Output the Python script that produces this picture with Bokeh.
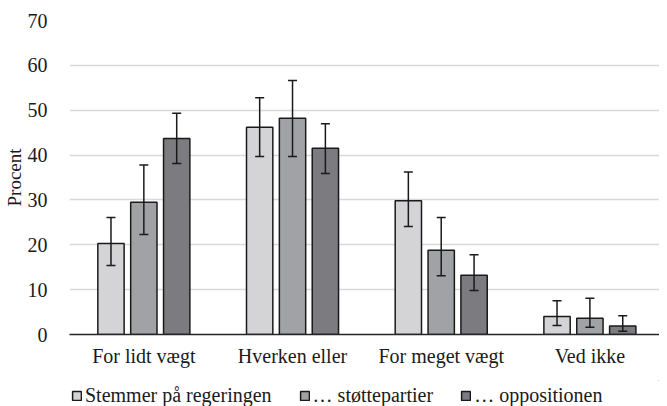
from bokeh.plotting import figure
from bokeh.models import Range1d, ColumnDataSource, Whisker, TeeHead, Legend, LegendItem, SingleIntervalTicker, FixedTicker
from bokeh.layouts import column
from bokeh.transform import dodge
from bokeh.embed import file_html
from bokeh.resources import INLINE

categories = ["For lidt vægt", "Hverken eller", "For meget vægt", "Ved ikke"]
series_names = ["Stemmer på regeringen", "… støttepartier", "… oppositionen"]
regering = [20.3, 46.2, 29.8, 4.0]
regering_lo = [15.4, 39.7, 24.1, 2.0]
regering_hi = [26.1, 52.8, 36.2, 7.5]
stotte = [29.5, 48.2, 18.8, 3.6]
stotte_lo = [22.3, 39.7, 13.1, 1.6]
stotte_hi = [37.8, 56.6, 26.1, 8.1]
opposition = [43.7, 41.5, 13.2, 1.9]
opposition_lo = [38.1, 35.9, 9.8, 0.7]
opposition_hi = [49.3, 47.0, 17.8, 4.2]

colors = ["#d4d4d6", "#a1a2a6", "#7b7b80"]
FONT = "Liberation Serif"
TXT = "#1a1a1a"
W = 659
LEFT = 61
idx = list(range(len(categories)))
# frame extends past the right edge of the picture in the reference
x_end = -0.5 + (W - LEFT) / 150.7

p = figure(x_range=Range1d(-0.5, x_end), y_range=Range1d(0, 70),
           width=W, height=380, output_backend="svg", toolbar_location=None,
           min_border_left=LEFT, min_border_right=0, min_border_top=20, min_border_bottom=46)
p.outline_line_color = None
p.background_fill_color = "white"

offsets = [-0.221, 0.0, 0.221]
vals = [regering, stotte, opposition]
los = [regering_lo, stotte_lo, opposition_lo]
his = [regering_hi, stotte_hi, opposition_hi]
for name, off, v, lo, hi, c in zip(series_names, offsets, vals, los, his, colors):
    src = ColumnDataSource(dict(x=idx, v=v, lo=lo, hi=hi))
    p.vbar(x=dodge("x", off), top="v", width=0.177, source=src,
           fill_color=c, line_color=TXT, line_width=1.5)
    w = Whisker(base=dodge("x", off), lower="lo", upper="hi", source=src,
                line_color=TXT, line_width=1.5, level="overlay",
                upper_head=TeeHead(size=9, line_color=TXT, line_width=1.5),
                lower_head=TeeHead(size=9, line_color=TXT, line_width=1.5))
    p.add_layout(w)

p.yaxis.ticker = SingleIntervalTicker(interval=10)
p.yaxis.axis_line_color = None
p.yaxis.major_tick_line_color = None
p.yaxis.minor_tick_line_color = None
p.yaxis.major_tick_out = 0
p.yaxis.major_tick_in = 0
p.yaxis.major_label_text_font = FONT
p.yaxis.major_label_text_font_size = "20px"
p.yaxis.major_label_text_color = TXT
p.yaxis.major_label_standoff = 18
p.yaxis.axis_label = "Procent"
p.yaxis.axis_label_text_font = FONT
p.yaxis.axis_label_text_font_size = "19px"
p.yaxis.axis_label_text_font_style = "normal"
p.yaxis.axis_label_text_color = TXT
p.yaxis.axis_label_standoff = 0

p.xaxis.ticker = FixedTicker(ticks=idx)
p.xaxis.major_label_overrides = {i: c for i, c in zip(idx, categories)}
p.xaxis.axis_line_color = "#262626"
p.xaxis.axis_line_width = 1.5
p.xaxis.major_tick_line_color = None
p.xaxis.minor_tick_line_color = None
p.xaxis.major_tick_out = 0
p.xaxis.major_tick_in = 0
p.xaxis.major_label_text_font = FONT
p.xaxis.major_label_text_font_size = "20px"
p.xaxis.major_label_text_color = TXT
p.xaxis.major_label_standoff = 10

p.xgrid.grid_line_color = None
p.ygrid.grid_line_color = "#d9d9d9"
p.ygrid.grid_line_width = 1.5

# legend strip below the chart (its frame is aligned with the chart's frame)
lg = figure(width=W, height=26, x_range=Range1d(0, 1), y_range=Range1d(0, 1),
            x_axis_location=None, y_axis_location=None,
            output_backend="svg", toolbar_location=None,
            min_border_left=0, min_border_right=0, min_border_top=0, min_border_bottom=0)
lg.grid.visible = False
lg.outline_line_color = None
items = []
for name, c in zip(series_names, colors):
    r = lg.vbar(x=[5], top=[5], bottom=[4], width=0.1, fill_color=c, line_color=TXT, line_width=1.5)
    items.append(LegendItem(label=name, renderers=[r]))
legend = Legend(items=items, orientation="horizontal", location=(2, -1),
                label_text_font=FONT, label_text_font_size="20px", label_text_color=TXT,
                glyph_width=11, glyph_height=11, label_standoff=3, spacing=27,
                border_line_color=None, background_fill_alpha=0, margin=0, padding=2)
lg.add_layout(legend, "center")

open("out.html", "w").write(file_html(column(p, lg, spacing=0), INLINE))
